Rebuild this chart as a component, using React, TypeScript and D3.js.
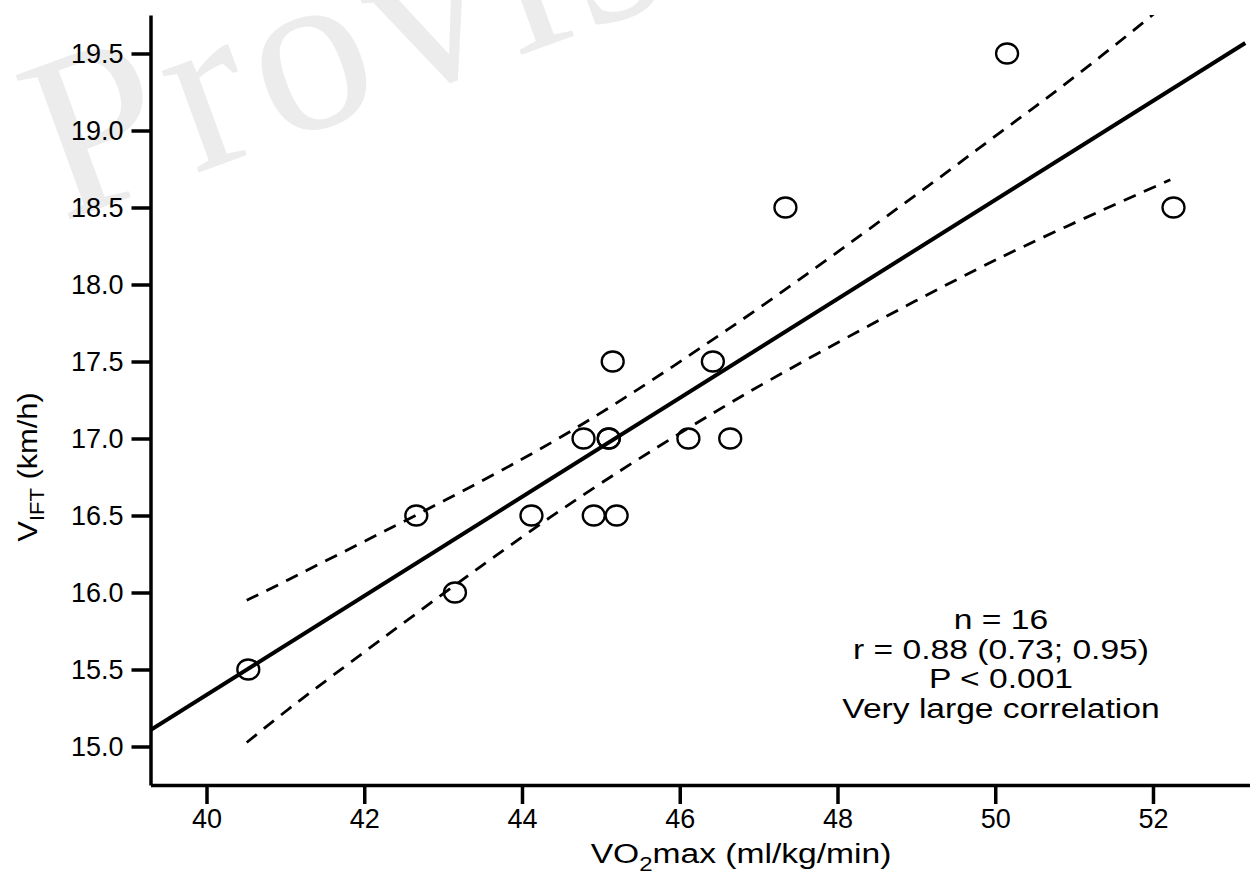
import React, { useRef, useEffect } from 'react';
import * as d3 from 'd3';

// VO2max (ml/kg/min) vs V_IFT (km/h), n = 16 (one point sits on top of another)
const vo2max = [40.53, 42.66, 43.15, 44.12, 44.78, 44.91, 45.10, 45.10, 45.15, 45.20, 46.11, 46.42, 46.64, 47.34, 50.15, 52.26];
const vift = [15.5, 16.5, 16.0, 16.5, 17.0, 16.5, 17.0, 17.0, 17.5, 16.5, 17.0, 17.5, 17.0, 18.5, 19.5, 18.5];

// regression line end points
const regX = [39.29, 53.17];
const regY = [15.107, 19.568];

// 95% confidence band
const upperX = [40.51, 41.15, 44.36, 46.6, 48.79, 50.06, 50.91, 52.0, 52.26];
const upperY = [15.949, 16.112, 16.97, 17.705, 18.505, 18.986, 19.311, 19.753, 19.87];
const lowerX = [40.51, 41.15, 44.36, 46.13, 47.53, 50.06, 52.22];
const lowerY = [15.026, 15.286, 16.489, 17.074, 17.49, 18.173, 18.68];

const xTicks = [40, 42, 44, 46, 48, 50, 52];
const yTicks = [15, 15.5, 16, 16.5, 17, 17.5, 18, 18.5, 19, 19.5];

const statLines = ['n = 16', 'r = 0.88 (0.73; 0.95)', 'P < 0.001', 'Very large correlation'];

const FONT = '"Liberation Sans", Arial, sans-serif';

const App = () => {
  const ref = useRef<SVGSVGElement | null>(null);

  useEffect(() => {
    const svg = d3.select(ref.current);
    svg.selectAll('*').remove();

    const width = 1250;
    const height = 877;
    const left = 150.5, right = 1250, top = 15, bottom = 785;

    const x = d3.scaleLinear().domain([39.29, 53.23]).range([left, right]);
    const y = d3.scaleLinear().domain([14.75, 19.75]).range([bottom, top]);

    svg.attr('width', width).attr('height', height);

    // watermark
    svg.append('text')
      .attr('x', 62)
      .attr('y', 222)
      .attr('transform', 'rotate(-20, 62, 222)')
      .attr('font-family', '"Liberation Serif", "Times New Roman", serif')
      .attr('font-size', 235)
      .attr('letter-spacing', 10)
      .attr('fill', '#ececec')
      .text('Provisional');

    svg.append('defs').append('clipPath').attr('id', 'plot-clip')
      .append('rect')
      .attr('x', left).attr('y', top)
      .attr('width', right - left).attr('height', bottom - top);

    const plot = svg.append('g').attr('clip-path', 'url(#plot-clip)');

    const band = d3.line<number>()
      .x(d => d[0])
      .y(d => d[1])
      .curve(d3.curveCatmullRom);

    const upper = upperX.map((v, i) => [x(v), y(upperY[i])]);
    const lower = lowerX.map((v, i) => [x(v), y(lowerY[i])]);

    [upper, lower].forEach(pts => {
      plot.append('path')
        .attr('d', band(pts as any))
        .attr('fill', 'none')
        .attr('stroke', '#000')
        .attr('stroke-width', 2.8)
        .attr('stroke-dasharray', '13,9');
    });

    // regression line
    plot.append('line')
      .attr('x1', x(regX[0])).attr('y1', y(regY[0]))
      .attr('x2', x(regX[1])).attr('y2', y(regY[1]))
      .attr('stroke', '#000')
      .attr('stroke-width', 4);

    // points
    plot.selectAll('.pt')
      .data(vo2max.map((v, i) => ({ v, s: vift[i] })))
      .enter()
      .append('ellipse')
      .attr('class', 'pt')
      .attr('cx', d => x(d.v))
      .attr('cy', d => y(d.s))
      .attr('rx', 11)
      .attr('ry', 10)
      .attr('fill', 'none')
      .attr('stroke', '#000')
      .attr('stroke-width', 2.3);

    // axes
    const yAxis = d3.axisLeft(y)
      .tickValues(yTicks)
      .tickFormat(d3.format('.1f') as any)
      .tickSize(19)
      .tickSizeOuter(0)
      .tickPadding(8);

    const xAxis = d3.axisBottom(x)
      .tickValues(xTicks)
      .tickFormat(d3.format('d') as any)
      .tickSize(19)
      .tickSizeOuter(0)
      .tickPadding(5);

    const yG = svg.append('g').attr('transform', `translate(${left},0)`).call(yAxis);
    const xG = svg.append('g').attr('transform', `translate(0,${bottom})`).call(xAxis);

    [yG, xG].forEach(g => {
      g.selectAll('.domain').attr('stroke', '#000').attr('stroke-width', 3.5);
      g.selectAll('.tick line').attr('stroke', '#000').attr('stroke-width', 3.5);
      g.selectAll('.tick text')
        .attr('fill', '#000')
        .attr('font-family', FONT)
        .attr('font-size', 27);
    });

    // x axis title
    const xt = svg.append('g')
      .attr('transform', 'translate(741, 863) scale(1.2, 1)')
      .append('text')
      .attr('text-anchor', 'middle')
      .attr('font-family', FONT)
      .attr('font-size', 28)
      .attr('fill', '#000');
    xt.append('tspan').text('VO');
    xt.append('tspan').attr('font-size', 20).attr('dy', 8).text('2');
    xt.append('tspan').attr('dy', -8).text('max (ml/kg/min)');

    // y axis title
    const yt = svg.append('g')
      .attr('transform', 'translate(37, 467) rotate(-90) scale(1.1, 1)')
      .append('text')
      .attr('text-anchor', 'middle')
      .attr('font-family', FONT)
      .attr('font-size', 28)
      .attr('fill', '#000');
    yt.append('tspan').text('V');
    yt.append('tspan').attr('font-size', 20).attr('dy', 7).text('IFT');
    yt.append('tspan').attr('dy', -7).text(' (km/h)');

    // stats annotation
    statLines.forEach((s, i) => {
      svg.append('g')
        .attr('transform', `translate(1001, ${629 + i * 29.7}) scale(1.2, 1)`)
        .append('text')
        .attr('text-anchor', 'middle')
        .attr('font-family', FONT)
        .attr('font-size', 28)
        .attr('fill', '#000')
        .text(s);
    });
  }, []);

  return (
    <svg
      ref={ref}
      style={{ position: 'absolute', left: 0, top: 0, display: 'block', background: '#fff' }}
    />
  );
};

export default App;
